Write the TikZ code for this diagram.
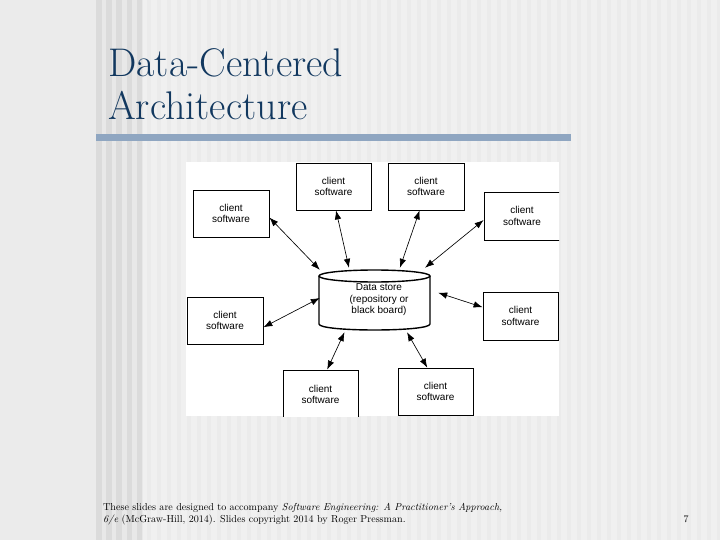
\documentclass[tikz,border=0pt]{standalone}
\usepackage{fontspec}
\newfontfamily\diagfont{Liberation Sans}
\usetikzlibrary{arrows.meta}
\definecolor{titleblue}{HTML}{12385F}
\definecolor{barblue}{HTML}{8FA6C1}
\begin{document}
\begin{tikzpicture}[x=1pt,y=-1pt,
  box/.style={draw=black, line width=0.8pt, fill=white, minimum width=75pt, minimum height=47pt,
    inner sep=0pt, align=center, font=\diagfont\fontsize{10}{11.5}\selectfont},
  store/.style={minimum width=118pt, minimum height=64pt, inner sep=0pt, align=center,
    font=\diagfont\fontsize{10}{11.5}\selectfont},
  link/.style={line width=0.65pt, {Latex[length=9pt,width=6.5pt]}-{Latex[length=9pt,width=6.5pt]}},
  cyl/.style={line width=1.4pt},
  titletext/.style={anchor=base west, inner sep=0pt, text=titleblue, font=\fontsize{40}{43}\selectfont},
  foot/.style={anchor=base west, inner sep=0pt, font=\fontsize{10.1}{12}\selectfont},
]
\useasboundingbox (0,0) rectangle (720,540);
% background
\fill[black!8] (0,0) rectangle (96,540);
\fill[black!6] (96,0) rectangle (720,540);
\fill[black!9] (96,0) rectangle (143,540);
\foreach \x/\w in {96/6,106/6,116/6,127/5,137/5}
  \fill[black!14] (\x,0) rectangle (\x+\w,540);
\foreach \x in {147,157,...,717}
  \fill[black!8] (\x,0) rectangle (\x+4,540);
% title
\node[titletext] (t1) at (108,77) {Data-Centered};
\node[titletext] (t2) at (108,120) {Architecture};
\fill[barblue] (96,134) rectangle (571,141);
% diagram
\fill[white] (186,162) rectangle (559,416);
\begin{scope}
\clip (186,162) rectangle (559,416);
\node[box] (tl) at (333.5,186.5) {client\\software};
\node[box, minimum width=76pt] (tm) at (426,186.5) {client\\software};
\node[box, minimum width=76pt] (l) at (231,213.5) {client\\software};
\node[box, minimum width=76pt, minimum height=48pt] (rt) at (522,216) {client\\software};
\node[box, minimum width=76pt] (lm) at (225,320.5) {client\\software};
\node[box, minimum height=48pt] (rm) at (520.5,316) {client\\software};
\node[box, minimum height=49pt] (bl) at (320.5,394.5) {client\\software};
\node[box] (br) at (435.5,391.5) {client\\software};
% data store cylinder
\draw[cyl, fill=white] (319,276) -- (319,324) .. controls (319,332) and (430,332) .. (430,324) -- (430,276);
\draw[cyl, fill=white] (374.5,276) ellipse [x radius=55.5pt, y radius=6pt];
\node[store] (ds) at (379,300) {Data store\\(repository or\\black board)};
% connectors
\draw[link] (tl.276) -- (ds.133);
\draw[link] (tm.255) -- (ds.57);
\draw[link] (l.354) -- (ds.153);
\draw[link] (rt.186) -- (ds.35);
\draw[link] (lm.350) -- (ds.178);
\draw[link] (rm.167) -- (ds.7);
\draw[link] (bl.75) -- (ds.223);
\draw[link] (br.109) -- (ds.311);
\end{scope}
% footer
\node[foot] (f1) at (103,510) {These slides are designed to accompany \textit{Software Engineering: A Practitioner's Approach,}};
\node[foot] (f2) at (103,522) {\textit{6/e} (McGraw-Hill, 2014). Slides copyright 2014 by Roger Pressman.};
\node[anchor=base, inner sep=0pt, font=\fontsize{10}{12}\selectfont] (pg) at (686,522) {7};
\end{tikzpicture}
\end{document}
